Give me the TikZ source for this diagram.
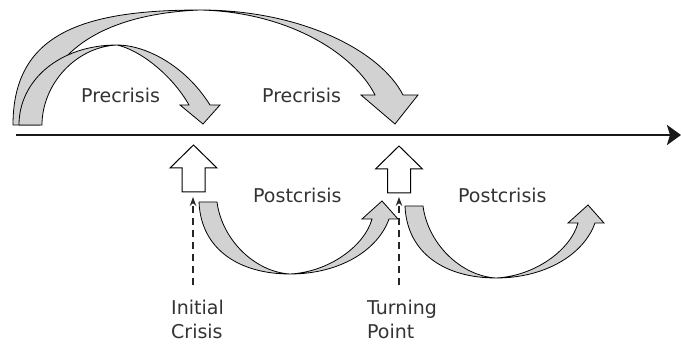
\documentclass[tikz,border=0pt]{standalone}
\usepackage{fontspec}
\setmainfont{DejaVu Sans}
\usetikzlibrary{arrows.meta}
\tikzset{
  ribbon/.style={fill=gray!35, draw=black, line width=0.8pt, line join=miter},
  hollow/.style={fill=white, draw=black, line width=1pt, line join=miter},
  lbl/.style={font=\fontsize{19}{24}\selectfont, text=black!80, inner sep=0pt, align=left},
  dasharrow/.style={draw=black!85, line width=1.1pt, dash pattern=on 7pt off 5pt,
    -{Stealth[length=9pt,width=6.5pt]}},
  timeline/.style={draw=black!90, line width=2.8pt, -{Stealth[length=14pt,width=20pt,inset=3pt]}},
  postarc/.pic={
    \draw[ribbon] (199,202) .. controls (201,250) and (240,274) .. (290,274)
      .. controls (340,274) and (378,250) .. (389,219) -- (398,219) -- (382,201)
      -- (362,219) -- (372,219) .. controls (365,245) and (330,272) .. (290,274)
      .. controls (255,272) and (222,240) .. (217,202) -- cycle;
  },
  uparrow/.pic={
    \draw[hollow] (0,0) -- (23.5,23) -- (11.5,23) -- (11.5,47) -- (-11.5,47)
      -- (-11.5,23) -- (-23.5,23) -- cycle;
  }
}
\begin{document}
\begin{tikzpicture}[x=1pt,y=-1pt]
\useasboundingbox (0,0) rectangle (681,344);
% timeline
\coordinate (tl-start) at (16,135);
\coordinate (tl-end) at (681,135);
\draw[timeline] (tl-start) -- (tl-end);
% big precrisis arc
\draw[ribbon] (13,125) .. controls (13,35) and (80,10) .. (200,10)
  .. controls (300,10) and (380,50) .. (403,95) -- (418,95) -- (395,124)
  -- (361,95) -- (375,95) .. controls (355,55) and (290,12) .. (200,10)
  .. controls (100,14) and (40,55) .. (40,125) -- cycle;
% small precrisis arc
\draw[ribbon] (19,125) .. controls (19,80) and (60,45) .. (117,45)
  .. controls (145,45) and (185,65) .. (210,105) -- (220,105) -- (203,124)
  -- (180,105) -- (189,105) .. controls (172,75) and (140,50) .. (117,45)
  .. controls (75,47) and (42,85) .. (42,125) -- cycle;
% postcrisis arcs
\pic at (0,0) {postarc};
\pic at (206,4) {postarc};
% up arrows
\pic at (193.5,145) {uparrow};
\pic at (399,146) {uparrow};
% labels
\node[lbl, anchor=base west] (pre1) at (81,103) {Precrisis};
\node[lbl, anchor=base west] (pre2) at (262,103) {Precrisis};
\node[lbl, anchor=base west] (post1) at (253,203) {Postcrisis};
\node[lbl, anchor=base west] (post2) at (458,203) {Postcrisis};
\node[lbl, anchor=north west] (ic) at (171,300) {Initial\\Crisis};
\node[lbl, anchor=north west] (tp) at (367,300) {Turning\\Point};
% dashed arrows
\coordinate (ic-from) at (193,285);
\coordinate (ic-to) at (193,197);
\coordinate (tp-from) at (399,285);
\coordinate (tp-to) at (399,197);
\draw[dasharrow] (ic-from) -- (ic-to);
\draw[dasharrow] (tp-from) -- (tp-to);
\end{tikzpicture}
\end{document}
